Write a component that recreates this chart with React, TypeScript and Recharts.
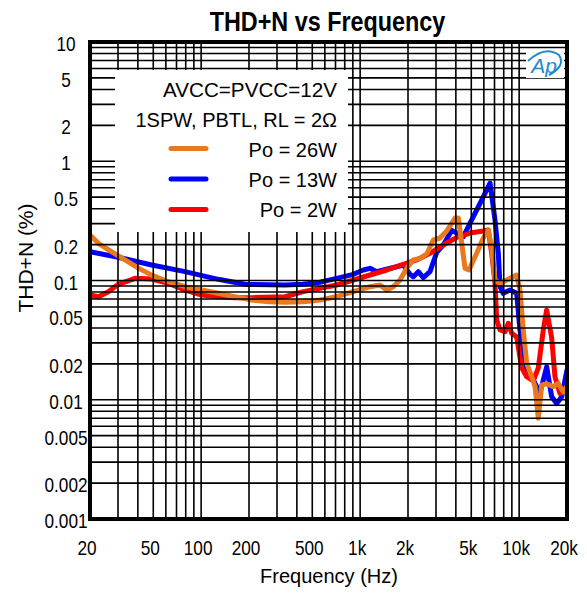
import React from 'react';
import { LineChart, Line, XAxis, YAxis, ReferenceLine, ReferenceArea } from 'recharts';

// ---- axis ticks & grid ----
const xTicks = [20, 50, 100, 200, 500, 1000, 2000, 5000, 10000, 20000];
const yTicks = [0.001, 0.002, 0.005, 0.01, 0.02, 0.05, 0.1, 0.2, 0.5, 1, 2, 5, 10];
const xGridValues = [30, 40, 50, 60, 70, 80, 90, 100, 200, 300, 400, 500, 600, 700, 800, 900,
  1000, 2000, 3000, 4000, 5000, 6000, 7000, 8000, 9000, 10000];
const yGridValues = [0.002, 0.003, 0.004, 0.005, 0.006, 0.007, 0.008, 0.009,
  0.01, 0.02, 0.03, 0.04, 0.05, 0.06, 0.07, 0.08, 0.09,
  0.1, 0.2, 0.3, 0.4, 0.5, 0.6, 0.7, 0.8, 0.9,
  1, 2, 3, 4, 5, 6, 7, 8, 9];

// ---- series: Po = 26W ----
const freq26W = [20, 22.6, 27.4, 33.2, 40.3, 48.9, 62.2, 79.2, 101, 128, 163, 208, 264, 337, 439, 559, 712, 906,
  1154, 1333, 1470, 1616, 1782, 1963, 2159, 2380, 2623, 2886, 3177, 3502, 3951, 4144, 4353, 4566, 4838, 5408,
  5951, 6398, 6721, 7050, 7580, 8354, 9654, 10117, 10617, 11158, 11995, 12589, 13200, 13864, 14894, 16408,
  17620, 18967, 20000];
const thd26W = [0.241, 0.205, 0.174, 0.149, 0.127, 0.111, 0.0977, 0.0887, 0.0832, 0.0781, 0.0731, 0.0686,
  0.0664, 0.0657, 0.0664, 0.0686, 0.0731, 0.0806, 0.0887, 0.0917, 0.0832, 0.0887, 0.101, 0.1265, 0.1486,
  0.1535, 0.1668, 0.2186, 0.2272, 0.26, 0.334, 0.334, 0.206, 0.127, 0.1225, 0.169, 0.227, 0.265, 0.187,
  0.101, 0.0947, 0.101, 0.111, 0.0832, 0.0385, 0.0202, 0.0156, 0.0129, 0.007, 0.0133, 0.0136, 0.0129,
  0.0137, 0.0116, 0.013];

// ---- series: Po = 13W ----
const freq13W = [20, 30.1, 48.9, 79.2, 128, 189, 337, 439, 559, 712, 906, 1047, 1154, 1271, 1400, 1698, 1867,
  2058, 2159, 2322, 2497, 2750, 3032, 3334, 3767, 4457, 5152, 5815, 6561, 7050, 7396, 7580, 7943, 8761,
  9654, 10117, 11158, 12277, 13521, 14894, 16026, 17220, 18530, 20000];
const thd13W = [0.174, 0.1565, 0.135, 0.1186, 0.1023, 0.0929, 0.0917, 0.0929, 0.0966, 0.1043, 0.1127, 0.1225,
  0.1265, 0.1186, 0.1225, 0.1305, 0.1349, 0.1127, 0.1076, 0.1186, 0.1056, 0.1186, 0.172, 0.1985, 0.263,
  0.233, 0.343, 0.473, 0.657, 0.322, 0.169, 0.0887, 0.0781, 0.0832, 0.0781, 0.0385, 0.0178, 0.0147, 0.0113,
  0.0189, 0.0106, 0.0093, 0.0106, 0.0178];

// ---- series: Po = 2W ----
const freq2W = [20, 22.6, 26.1, 30.1, 38.4, 48.9, 62.2, 79.2, 101, 128, 163, 208, 337, 439, 712, 906, 1154,
  1470, 1867, 2268, 2750, 3334, 4048, 4909, 5951, 6398, 6721, 7050, 7228, 7580, 8149, 8551, 8978, 9654,
  10380, 11158, 12277, 13200, 14192, 14894, 16026, 16812, 18071, 19416, 20000];
const thd2W = [0.0756, 0.0731, 0.0806, 0.0929, 0.1043, 0.103, 0.0947, 0.0832, 0.0756, 0.0731, 0.0718, 0.0718,
  0.0731, 0.0806, 0.0917, 0.101, 0.1112, 0.1225, 0.1367, 0.1486, 0.169, 0.1985, 0.2294, 0.25, 0.26, 0.265,
  0.169, 0.0947, 0.0466, 0.0385, 0.0372, 0.0438, 0.0361, 0.0336, 0.0185, 0.0156, 0.0144, 0.0185, 0.0385,
  0.0566, 0.033, 0.0155, 0.0113, 0.0121, 0.0125];

const seriesNames = ['Po = 26W', 'Po = 13W', 'Po = 2W'];
const seriesColors = ['#E8791E', '#0000FF', '#FF0000'];
const conditionLines = ['AVCC=PVCC=12V', '1SPW, PBTL, RL = 2\u03A9'];

const toPoints = (fs: number[], vs: number[]) => fs.map((f, i) => ({ f, v: vs[i] }));
const series = [
  { name: seriesNames[0], color: seriesColors[0], data: toPoints(freq26W, thd26W) },
  { name: seriesNames[1], color: seriesColors[1], data: toPoints(freq13W, thd13W) },
  { name: seriesNames[2], color: seriesColors[2], data: toPoints(freq2W, thd2W) },
];
// draw order: 13W, 2W, then 26W on top
const drawOrder = [1, 2, 0];

const FONT = '"Liberation Sans", Arial, sans-serif';
const W = 587;
const H = 594;
const PLOT = { top: 42, right: 20, bottom: 75, left: 90 };

const fmtX = (v: number) => (v >= 1000 ? `${v / 1000}k` : `${v}`);

const XTick = (props: any) => {
  const { x, y, payload } = props;
  return (
    <text transform={`translate(${x - 3}, ${y + 36}) scale(0.82,1)`} textAnchor="middle"
      fontSize={21} fontFamily={FONT} fill="#000">{fmtX(payload.value)}</text>
  );
};

const YTick = (props: any) => {
  const { x, y, payload } = props;
  return (
    <text transform={`translate(${x - 24}, ${y + 9}) scale(0.82,1)`} textAnchor="middle"
      fontSize={21} fontFamily={FONT} fill="#000">{String(payload.value)}</text>
  );
};

export default function App() {
  return (
    <div style={{ position: 'absolute', left: 0, top: 0, width: W, height: H, background: '#fff' }}>
      {/* data layer: axes, tick labels and curves */}
      <div style={{ position: 'absolute', left: 0, top: 0 }}>
        <LineChart width={W} height={H}
          margin={{ top: PLOT.top, right: PLOT.right, bottom: PLOT.bottom - 30, left: PLOT.left - 60 }}>
          <XAxis type="number" dataKey="f" scale="log" domain={[20, 20000]} ticks={xTicks} interval={0}
            allowDataOverflow height={30} tickSize={0} tickMargin={0} tickLine={false} axisLine={false}
            tick={(p: any) => <XTick {...p} />} />
          <YAxis type="number" dataKey="v" scale="log" domain={[0.001, 10]} ticks={yTicks} interval={0}
            allowDataOverflow width={60} tickSize={0} tickMargin={0} tickLine={false} axisLine={false}
            tick={(p: any) => <YTick {...p} />} />
          {drawOrder.map((i) => (
            <Line key={series[i].name} data={series[i].data} dataKey="v" name={series[i].name}
              stroke={series[i].color} strokeWidth={5} dot={false} isAnimationActive={false}
              strokeLinejoin="round" strokeLinecap="round" />
          ))}
        </LineChart>
      </div>
      {/* grid layer drawn over the curves, as in the original */}
      <div style={{ position: 'absolute', left: 0, top: 0, pointerEvents: 'none' }}>
        <LineChart width={W} height={H} margin={PLOT}>
          <XAxis type="number" dataKey="f" scale="log" domain={[20, 20000]} allowDataOverflow hide />
          <YAxis type="number" dataKey="v" scale="log" domain={[0.001, 10]} allowDataOverflow hide />
          {xGridValues.map((v) => (
            <ReferenceLine key={`gx${v}`} x={v} stroke="#000" strokeWidth={1.6} />
          ))}
          {yGridValues.map((v) => (
            <ReferenceLine key={`gy${v}`} y={v} stroke="#000" strokeWidth={1.6} />
          ))}
          <ReferenceArea x1={20} x2={20000} y1={0.001} y2={10} fill="none" fillOpacity={0}
            stroke="#000" strokeWidth={4} />
        </LineChart>
      </div>
      <svg width={W} height={H} style={{ position: 'absolute', left: 0, top: 0, pointerEvents: 'none' }}>
        <text transform="translate(327.5, 31) scale(0.835,1)" textAnchor="middle" fontSize={28}
          fontWeight="bold" fontFamily={FONT} fill="#000">THD+N vs Frequency</text>
        <text x={329} y={583} textAnchor="middle" fontSize={20} fontFamily={FONT} fill="#000">Frequency (Hz)</text>
        <text transform="translate(33, 258) rotate(-90)" textAnchor="middle" fontSize={21}
          fontFamily={FONT} fill="#000">THD+N (%)</text>
        <rect x={115} y={70} width={233} height={162} fill="#fff" />
        <text x={337} y={97} textAnchor="end" fontSize={20} fontFamily={FONT} fill="#000"
          textLength={174} lengthAdjust="spacingAndGlyphs">{conditionLines[0]}</text>
        <text x={337} y={127} textAnchor="end" fontSize={20} fontFamily={FONT} fill="#000">{conditionLines[1]}</text>
        {series.map((s, i) => (
          <g key={s.name}>
            <line x1={171} x2={206} y1={148.5 + i * 30.5} y2={148.5 + i * 30.5} stroke={s.color}
              strokeWidth={5} strokeLinecap="round" />
            <text x={337} y={157 + i * 30} textAnchor="end" fontSize={20} fontFamily={FONT} fill="#000">{s.name}</text>
          </g>
        ))}
        <g>
          <rect x={526} y={50} width={38} height={28} fill="#fff" />
          <path d="M 528 61 Q 545 45 559 55 Q 566 66 549 75" fill="none" stroke="#1F8BCB" strokeWidth={2} />
          <text x={544} y={73} textAnchor="middle" fontSize={21} fontStyle="italic" fontFamily={FONT}
            fill="#1F8BCB">Ap</text>
        </g>
      </svg>
    </div>
  );
}
